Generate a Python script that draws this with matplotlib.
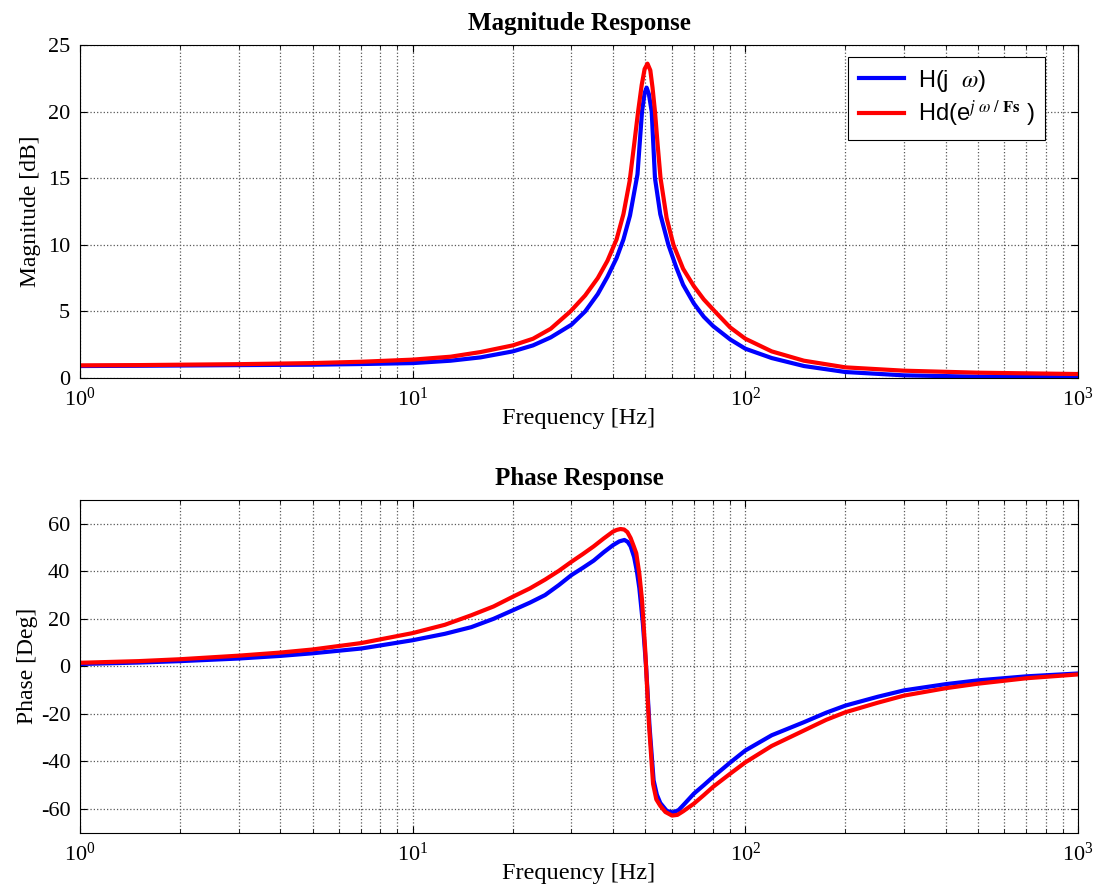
import numpy as np
import matplotlib
matplotlib.use("Agg")
import matplotlib.pyplot as plt
from matplotlib.ticker import LogLocator, NullFormatter

plt.rcParams['font.family'] = ['Liberation Serif', 'DejaVu Serif']
plt.rcParams['mathtext.fontset'] = 'stix'
plt.rcParams['axes.unicode_minus'] = False

# magnitude response
f_mag_h = [1, 1.5, 2, 3, 5, 7, 10, 13, 16, 20, 23, 26, 30, 33, 36, 38.5, 41, 43, 45, 47.4,
           48.9, 49.8, 50.5, 51.3, 52.3, 53.5, 55.5, 58.7, 62, 65, 70, 75, 80, 90, 100,
           120, 150, 200, 300, 500, 1000]
mag_h = [0.9, 0.92, 0.94, 0.97, 1.0, 1.05, 1.12, 1.3, 1.55, 2.0, 2.45, 3.05, 4.0, 5.0, 6.3,
         7.6, 9.0, 10.4, 12.2, 15.3, 20.0, 21.4, 21.8, 21.3, 20.0, 15.0, 12.3, 10.0, 8.3, 7.0,
         5.6, 4.6, 3.9, 2.9, 2.2, 1.5, 0.9, 0.45, 0.2, 0.1, 0.05]

f_mag_hd = [1, 1.5, 2, 3, 5, 7, 10, 13, 16, 20, 23, 26, 29.8, 33, 36, 38.5, 41.0, 43, 44.9,
            46.3, 47.6, 48.8, 49.8, 50.8, 51.8, 52.6, 53.5, 54.5, 55.6, 58, 60.8, 65, 70,
            75, 81, 90, 100, 120, 150, 200, 300, 500, 1000]
mag_hd = [0.95, 0.97, 1.0, 1.04, 1.12, 1.22, 1.38, 1.6, 1.95, 2.45, 2.95, 3.7, 5.0, 6.2, 7.5,
          8.8, 10.4, 12.3, 14.8, 17.5, 20.0, 22.0, 23.2, 23.6, 23.1, 21.8, 20.0, 17.5, 15.0,
          12.0, 10.0, 8.2, 6.9, 5.9, 5.0, 3.8, 2.95, 2.0, 1.3, 0.8, 0.55, 0.4, 0.3]

# phase response
f_ph_h = [1, 1.5, 2, 3, 4, 5, 7, 10, 12.5, 15, 17.5, 20, 22.5, 25, 27.5, 30, 32.5, 35, 37.5,
          40, 41.8, 43.3, 44.3, 45.2, 46.3, 47.2, 48, 49.2, 50.3, 51.5, 53, 54.2, 55.5, 58,
          60.5, 63, 66, 70, 75, 80, 90, 100, 120, 150, 175, 200, 250, 300, 400, 500, 700, 1000]
ph_h = [1.0, 1.6, 2.2, 3.3, 4.4, 5.5, 7.5, 11, 13.7, 16.5, 20, 23.6, 26.8, 30, 34.2, 38.4,
        41.5, 44.5, 48, 51, 52.6, 53.2, 52.4, 50.5, 46, 40, 33, 18, 0, -25, -48, -54, -57.5,
        -60.8, -61.5, -60.5, -57.5, -53.6, -50, -46.5, -40.5, -35.4, -29, -23.5, -19.5,
        -16.5, -12.8, -10.1, -7.5, -5.9, -4.2, -3.0]

f_ph_hd = [1, 1.5, 2, 3, 4, 5, 7, 10, 12.5, 15, 17.5, 20, 22.5, 25, 27.5, 30, 32.5, 35, 37.5,
           40, 41, 42.1, 43.2, 44.2, 45.2, 46.2, 47, 48, 48.9, 50, 51.3, 52.8, 54, 55.5,
           57.5, 60.2, 62.5, 65, 70, 75, 80, 90, 100, 120, 150, 175, 200, 250, 300, 400,
           500, 700, 1000]
ph_hd = [1.5, 2.2, 3.0, 4.5, 5.8, 7.1, 9.8, 14, 17.5, 21.5, 25.2, 29.3, 32.8, 36.5, 40.2, 44,
         47.3, 50.5, 53.8, 56.7, 57.4, 57.8, 57.6, 56.5, 54, 50.5, 47.6, 39, 28, 7, -24,
         -49.5, -56, -58.7, -61.3, -62.8, -62.5, -61, -57.8, -54.2, -50.7, -45.2, -40.4,
         -33.5, -27, -22.5, -19.3, -15.3, -12.3, -9.2, -7.3, -5, -3.4]

fig = plt.figure(figsize=(10.96, 8.88), dpi=100)
ax1 = fig.add_axes([0.073, 0.5743, 0.9106, 0.375])
ax2 = fig.add_axes([0.073, 0.0623, 0.9106, 0.3746])

def style(ax):
    ax.set_xscale('log')
    ax.set_xlim(1, 1000)
    ax.xaxis.set_major_locator(LogLocator(base=10, numticks=10))
    ax.xaxis.set_minor_locator(LogLocator(base=10, subs=np.arange(2, 10), numticks=20))
    ax.xaxis.set_minor_formatter(NullFormatter())
    ax.grid(True, which='major', linestyle=':', color='0.35', linewidth=0.9)
    ax.grid(True, which='minor', axis='x', linestyle=':', color='0.35', linewidth=0.9)
    ax.tick_params(direction='in', which='both', top=True, right=True, labelsize=16)
    ax.tick_params(which='major', length=5, pad=7)
    ax.tick_params(which='minor', length=3)
    for s in ax.spines.values():
        s.set_linewidth(0.8)
    ax.set_axisbelow(True)

ax1.plot(f_mag_h, mag_h, color='#0000ff', lw=3, label=r'H(j  $\omega$)')
ax1.plot(f_mag_hd, mag_hd, color='#ff0000', lw=3, label=r'Hd(e$^{j\ \omega\ /\ \mathbf{Fs}}$ )')
style(ax1)
ax1.set_ylim(0, 25)
ax1.set_yticks([0, 5, 10, 15, 20, 25])
ax1.set_title('Magnitude Response', fontsize=18, fontweight='bold', pad=11)
ax1.set_xlabel('Frequency [Hz]', fontsize=17.5, labelpad=-2)
ax1.set_ylabel('Magnitude [dB]', fontsize=17, labelpad=5)
leg = ax1.legend(loc='upper right', bbox_to_anchor=(0.967, 0.964), borderaxespad=0,
                 fancybox=False, edgecolor='black', framealpha=1, handlelength=1.9,
                 handletextpad=0.6, prop={'family': 'Liberation Sans', 'size': 17},
                 borderpad=0.45, labelspacing=0.2)
leg.get_frame().set_linewidth(0.8)

ax2.plot(f_ph_h, ph_h, color='#0000ff', lw=3)
ax2.plot(f_ph_hd, ph_hd, color='#ff0000', lw=3)
style(ax2)
ax2.set_ylim(-70, 70)
ax2.set_yticks([-60, -40, -20, 0, 20, 40, 60])
ax2.set_title('Phase Response', fontsize=18, fontweight='bold', pad=11)
ax2.set_xlabel('Frequency [Hz]', fontsize=17.5, labelpad=-2)
ax2.set_ylabel('Phase [Deg]', fontsize=17, labelpad=2)

fig.savefig('out.png', dpi=100, facecolor='white')
